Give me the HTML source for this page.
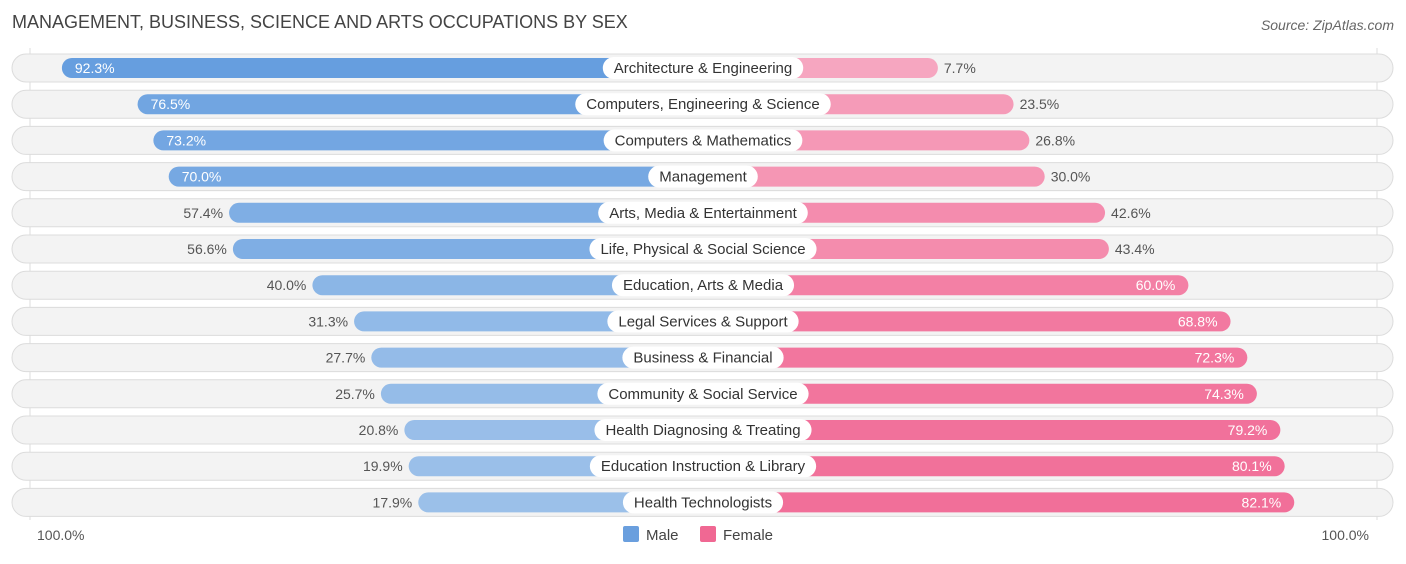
<!DOCTYPE html>
<html><head><meta charset="utf-8"><style>
body{margin:0;background:#fff;font-family:"Liberation Sans",sans-serif;}
svg text{font-family:"Liberation Sans",sans-serif;}
</style></head><body>
<svg id="chart" width="1406" height="559" xmlns="http://www.w3.org/2000/svg">
<text x="12" y="28" font-size="18" fill="#444">MANAGEMENT, BUSINESS, SCIENCE AND ARTS OCCUPATIONS BY SEX</text>
<text x="1394" y="30" font-size="14" fill="#666" font-style="italic" text-anchor="end">Source: ZipAtlas.com</text>
<line x1="30" y1="48" x2="30" y2="520" stroke="#ddd"/>
<line x1="1377" y1="48" x2="1377" y2="520" stroke="#ddd"/>
<g id="rows"></g>
<text x="37" y="540" font-size="14" fill="#555">100.0%</text>
<text x="1369" y="540" font-size="14" fill="#555" text-anchor="end">100.0%</text>
<g><rect x="623" y="526" width="16" height="16" rx="2" fill="#6a9fde"/><text x="646" y="540" font-size="15" fill="#444">Male</text></g>
<g><rect x="700" y="526" width="16" height="16" rx="2" fill="#f06893"/><text x="723" y="540" font-size="15" fill="#444">Female</text></g>
</svg>
<script>
const categories=["Architecture & Engineering","Computers, Engineering & Science","Computers & Mathematics","Management","Arts, Media & Entertainment","Life, Physical & Social Science","Education, Arts & Media","Legal Services & Support","Business & Financial","Community & Social Service","Health Diagnosing & Treating","Education Instruction & Library","Health Technologists"];
const maleValues=[92.3,76.5,73.2,70.0,57.4,56.6,40.0,31.3,27.7,25.7,20.8,19.9,17.9];
const femaleValues=[7.7,23.5,26.8,30.0,42.6,43.4,60.0,68.8,72.3,74.3,79.2,80.1,82.1];
const NS="http://www.w3.org/2000/svg";
const cx=703,k=4.79,m0=504,f0=901;
const xMale=v=>m0-k*v, xFemale=v=>f0+k*v;
const rowY=i=>68+i*36.2;
function mix(a,b,t){return "rgb("+a.map((c,j)=>Math.round(c+(b[j]-c)*t)).join(",")+")";}
const g=document.getElementById("rows");
function el(tag,attrs,parent){const e=document.createElementNS(NS,tag);for(const a in attrs)e.setAttribute(a,attrs[a]);parent.appendChild(e);return e;}
categories.forEach((c,i)=>{
  const y=rowY(i);
  const row=el("g",{},g);
  
  
  const bg=el("rect",{x:12,y:y-14,width:1381,height:28,rx:14,fill:"#f3f3f3",stroke:"#dcdcdc"},row);
  
  
  const mv=maleValues[i],fv=femaleValues[i];
  const mx=xMale(mv);
  const mb=el("rect",{x:mx,y:y-10,width:cx-mx,height:20,rx:10,fill:mix([168,200,236],[96,154,222],mv/100)},row);
  
  
  const fx=xFemale(fv);
  const fb=el("rect",{x:cx,y:y-10,width:fx-cx,height:20,rx:10,fill:mix([247,172,196],[240,98,144],fv/100)},row);
  
  
  const lbl=el("text",{x:cx,y:y+5,"font-size":15,fill:"#333","text-anchor":"middle"},row);
  lbl.textContent=c;
  const w=lbl.getComputedTextLength()+22;
  const lb=el("rect",{x:cx-w/2,y:y-11,width:w,height:22,rx:11,fill:"#fff"},row);
  row.insertBefore(lb,lbl);
  
  
  
  
  const mIn=mv>=65;
  const mt=el("text",{x:mIn?mx+13:mx-6,y:y+5,"font-size":14,fill:mIn?"#fff":"#555","text-anchor":mIn?"start":"end"},row);
  mt.textContent=mv.toFixed(1)+"%";
  
  
  const fIn=fv>=55;
  const ft=el("text",{x:fIn?fx-13:fx+6,y:y+5,"font-size":14,fill:fIn?"#fff":"#555","text-anchor":fIn?"end":"start"},row);
  ft.textContent=fv.toFixed(1)+"%";
  
  
});
</script>
</body></html>
